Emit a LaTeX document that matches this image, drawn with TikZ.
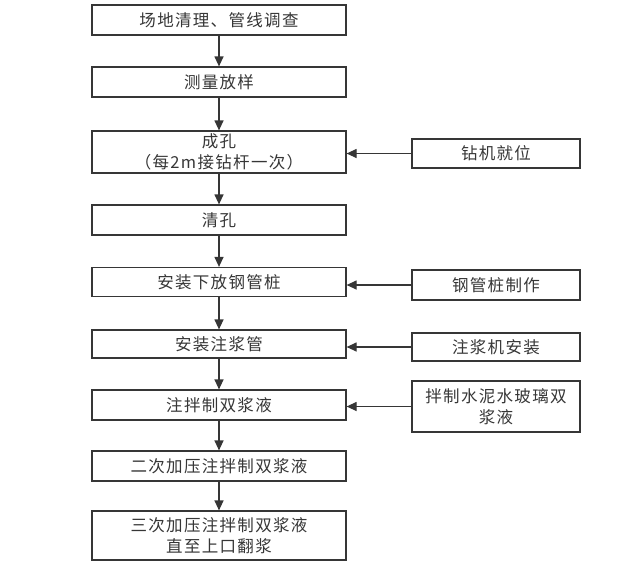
\documentclass[tikz,border=0pt]{standalone}
\usepackage{fontspec}
\setmainfont{Noto Sans CJK SC}[LetterSpace=8]
\usetikzlibrary{arrows.meta}
\definecolor{ink}{HTML}{363636}
\begin{document}
\begin{tikzpicture}[x=1pt,y=-1pt,
  box/.style={draw=ink,line width=1.2pt,text=ink,font=\fontsize{16.5}{21}\selectfont,align=center,inner sep=0pt},
  arr/.style={draw=ink,line width=1.2pt,-{Triangle[length=10pt,width=9pt]}}]
\useasboundingbox (0,0) rectangle (636,565);
% main column: x 92..346
\node[box,minimum width=254pt,minimum height=30pt] (b1) at (219,20) {场地清理、管线调查};
\node[box,minimum width=254pt,minimum height=30pt] (b2) at (219,82) {测量放样};
\node[box,minimum width=254pt,minimum height=42pt] (b3) at (219,152) {成孔\\（每2m接钻杆一次）};
\node[box,minimum width=254pt,minimum height=30pt] (b4) at (219,220) {清孔};
\node[box,minimum width=254pt,minimum height=29pt] (b5) at (219,282) {安装下放钢管桩};
\node[box,minimum width=254pt,minimum height=28pt] (b6) at (219,344) {安装注浆管};
\node[box,minimum width=254pt,minimum height=30pt] (b7) at (219,405) {注拌制双浆液};
\node[box,minimum width=254pt,minimum height=30pt] (b8) at (219,466) {二次加压注拌制双浆液};
\node[box,minimum width=254pt,minimum height=49pt] (b9) at (219,535.5) {三次加压注拌制双浆液\\直至上口翻浆};
% side column: x 412..580
\node[box,minimum width=168pt,minimum height=29pt] (s1) at (496,153.5) {钻机就位};
\node[box,minimum width=168pt,minimum height=30pt] (s2) at (496,285) {钢管桩制作};
\node[box,minimum width=168pt,minimum height=28pt] (s3) at (496,347) {注浆机安装};
\node[box,minimum width=168pt,minimum height=51pt] (s4) at (496,406.5) {拌制水泥水玻璃双\\浆液};
% vertical arrows
\draw[arr] (b1) -- (b2);
\draw[arr] (b2) -- (b3);
\draw[arr] (b3) -- (b4);
\draw[arr] (b4) -- (b5);
\draw[arr] (b5) -- (b6);
\draw[arr] (b6) -- (b7);
\draw[arr] (b7) -- (b8);
\draw[arr] (b8) -- (b9);
% side arrows
\draw[arr] (s1.west) -- (s1.west -| b3.east);
\draw[arr] (s2.west) -- (s2.west -| b5.east);
\draw[arr] (s3.west) -- (s3.west -| b6.east);
\draw[arr] (s4.west) -- (s4.west -| b7.east);
\end{tikzpicture}
\end{document}
